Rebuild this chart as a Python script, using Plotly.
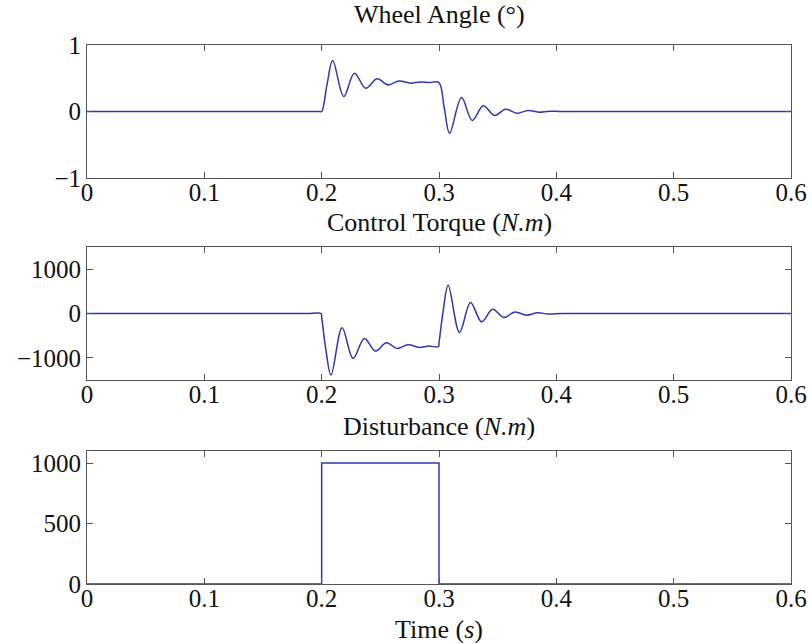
import plotly.graph_objects as go

# ---- data ----
t_angle = [0, 0.19, 0.198, 0.2, 0.2045, 0.2094, 0.2188, 0.2279, 0.2375, 0.2472, 0.2566,
           0.266, 0.2757, 0.284, 0.292, 0.2998, 0.3045, 0.309, 0.3192, 0.3283, 0.3377,
           0.3474, 0.3567, 0.3663, 0.376, 0.385, 0.394, 0.405, 0.45, 0.6]
wheel_angle = [0, 0, 0, 0, 0.40, 0.767, 0.226, 0.576, 0.351, 0.491, 0.40,
               0.46, 0.426, 0.445, 0.435, 0.437, 0.05, -0.326, 0.21, -0.135, 0.085,
               -0.06, 0.035, -0.025, 0.015, -0.01, 0.005, 0, 0, 0]

t_torque = [0, 0.19, 0.1995, 0.2, 0.2005, 0.2035, 0.208, 0.2174, 0.2268, 0.2364, 0.2458,
            0.2552, 0.2643, 0.2737, 0.283, 0.2915, 0.2995, 0.3, 0.3005, 0.3035, 0.3078,
            0.3175, 0.3269, 0.3363, 0.3457, 0.3553, 0.3647, 0.3744, 0.3838, 0.393, 0.405,
            0.45, 0.6]
control_torque = [0, 0, 0, -100, -190, -800, -1387, -323, -1012, -562, -847,
                  -660, -787, -704, -764, -734, -750, -650, -560, 50, 636,
                  -427, 247, -188, 96, -90, 36, -37, 15, -10, 0,
                  0, 0]

t_dist = [0, 0.2, 0.2, 0.3, 0.3, 0.6]
disturbance = [0, 0, 1000, 1000, 0, 0]

x_ticks = [0, 0.1, 0.2, 0.3, 0.4, 0.5, 0.6]
x_ticktext = ["0", "0.1", "0.2", "0.3", "0.4", "0.5", "0.6"]
y1_ticks = [-1, 0, 1]
y1_ticktext = ["\u22121", "0", "1"]
y2_ticks = [-1000, 0, 1000]
y2_ticktext = ["\u22121000", "0", "1000"]
y3_ticks = [0, 500, 1000]
y3_ticktext = ["0", "500", "1000"]

titles = ["Wheel Angle (\u00b0)", "Control Torque (<i>N.m</i>)", "Disturbance (<i>N.m</i>)"]
xlabel = "Time (<i>s</i>)"

# ---- figure ----
FONT = "Liberation Serif"
LINE = "#3434b0"
AX = "#555555"

fig = go.Figure()
fig.add_trace(go.Scatter(x=t_angle, y=wheel_angle, mode="lines",
                         line=dict(color=LINE, width=1.5, shape="spline"),
                         xaxis="x", yaxis="y", showlegend=False))
fig.add_trace(go.Scatter(x=t_torque, y=control_torque, mode="lines",
                         line=dict(color=LINE, width=1.5, shape="spline"),
                         xaxis="x2", yaxis="y2", showlegend=False))
fig.add_trace(go.Scatter(x=t_dist, y=disturbance, mode="lines",
                         line=dict(color=LINE, width=1.5),
                         xaxis="x3", yaxis="y3", showlegend=False))

def xax(anchor):
    return dict(range=[0, 0.6], tickvals=x_ticks, ticktext=x_ticktext,
                showline=True, linecolor=AX, linewidth=1, mirror="ticks",
                ticks="inside", ticklen=6, tickcolor=AX, showgrid=False,
                zeroline=False, anchor=anchor, domain=[0, 1],
                automargin=False, ticklabelstandoff=-8,
                tickfont=dict(family=FONT, size=25, color="#111"))

def yax(rng, tv, tt, dom, anchor):
    return dict(range=rng, tickvals=tv, ticktext=tt, domain=dom,
                showline=True, linecolor=AX, linewidth=1, mirror="ticks",
                ticks="inside", ticklen=6, tickcolor=AX, showgrid=False,
                zeroline=False, anchor=anchor, automargin=False,
                tickfont=dict(family=FONT, size=25, color="#111"))

fig.update_layout(
    width=812, height=643,
    margin=dict(l=87, r=21, t=45, b=59, autoexpand=False),
    paper_bgcolor="white", plot_bgcolor="white",
    xaxis=xax("y"), xaxis2=xax("y2"), xaxis3=xax("y3"),
    yaxis=yax([-1, 1], y1_ticks, y1_ticktext, [0.7532, 1.0], "x"),
    yaxis2=yax([-1500, 1500], y2_ticks, y2_ticktext, [0.3785, 0.6252], "x2"),
    yaxis3=yax([0, 1100], y3_ticks, y3_ticktext, [0.0, 0.2468], "x3"),
)

ann_y = [1.0575, 0.6716, 0.2913]
for txt, yy in zip(titles, ann_y):
    fig.add_annotation(text=txt, x=0.5, y=yy, xref="paper", yref="paper",
                       showarrow=False, xanchor="center", yanchor="middle",
                       font=dict(family=FONT, size=26, color="#111"))
fig.add_annotation(text=xlabel, x=0.5, y=-0.0853, xref="paper", yref="paper",
                   showarrow=False, xanchor="center", yanchor="middle",
                   font=dict(family=FONT, size=26, color="#111"))

fig.write_html("out.html", config={"displayModeBar": False},
               post_script="document.body.style.margin='0';")
